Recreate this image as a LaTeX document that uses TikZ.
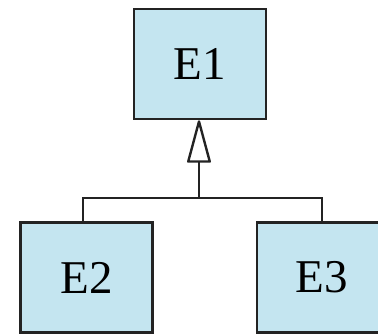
\documentclass[tikz,border=0pt]{standalone}
\usepackage{fontspec}
\setmainfont{Liberation Serif}
\usetikzlibrary{arrows.meta}
\definecolor{boxfill}{RGB}{196,229,240}
\definecolor{ink}{RGB}{35,35,35}
\begin{document}
\begin{tikzpicture}[x=1pt,y=-1pt,
  entity/.style={draw=ink, fill=boxfill, line width=2.6pt, minimum width=132pt, minimum height=110pt, inner sep=0pt, font=\fontsize{47}{50}\selectfont, text=black},
  conn/.style={draw=ink, line width=2.6pt}]
\clip (0,0) rectangle (378,335);
\useasboundingbox (0,0) rectangle (378,335);
\node[entity] (e1) at (200,64) {E1};
\node[entity] (e2) at (86.5,277.5) {E2};
\node[entity, minimum width=130pt] (e3) at (322,277.5) {E3};
\coordinate (j) at (199,198);
\coordinate (l) at (83,198);
\coordinate (r) at (322,198);
\draw[conn, -{Triangle[open, length=46pt, width=24pt, line width=2.4pt, round]}] (j) -- (j |- e1.south);
\draw[conn] (e2.north -| l) -- (l) -- (r) -- (e3.north -| r);
\end{tikzpicture}
\end{document}
